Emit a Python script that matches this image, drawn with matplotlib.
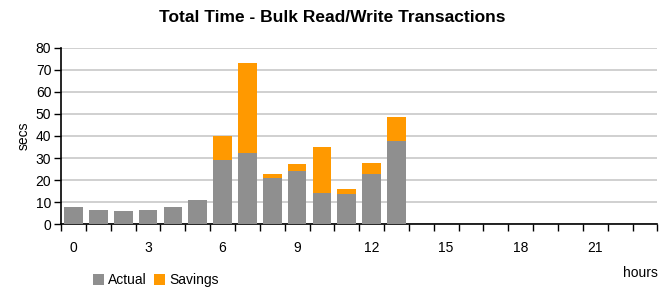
import matplotlib
matplotlib.use("Agg")
import matplotlib.pyplot as plt
import numpy as np

hours = list(range(24))
actual = [8.0, 6.5, 5.9, 6.5, 8.0, 10.9, 29.3, 32.2, 21.1, 24.2, 14.0, 13.7, 22.8, 37.9] + [0]*10
savings = [0, 0, 0, 0, 0, 0, 10.7, 40.8, 1.8, 3.0, 21.2, 2.2, 5.1, 10.9] + [0]*10
xtick_labels = [0, 3, 6, 9, 12, 15, 18, 21]

plt.rcParams['font.family'] = ['Liberation Sans Narrow', 'Liberation Sans', 'DejaVu Sans']

fig = plt.figure(figsize=(6.64, 2.89), dpi=100)
ax = fig.add_axes([0.092, 0.224, 0.898, 0.611])

gray = '#8f8f8f'
orange = '#ff9900'
ax.bar(hours, actual, width=0.75, color=gray, label='Actual', zorder=3)
ax.bar(hours, savings, width=0.75, bottom=actual, color=orange, label='Savings', zorder=3)

ax.set_xlim(-0.5, 23.5)
ax.set_ylim(0, 80)
ax.set_yticks(range(0, 81, 10))
ax.yaxis.grid(True, color='#c8c8c8', linewidth=1.2, zorder=0)
ax.set_axisbelow(True)

ax.set_xticks(xtick_labels)
ax.set_xticklabels([str(v) for v in xtick_labels])
ax.set_xticks(np.arange(-0.5, 24, 1), minor=True)
ax.tick_params(axis='x', which='major', length=0, pad=12, labelsize=10)
ax.tick_params(axis='x', which='minor', length=5, width=1, color='black', direction='out')
ax.tick_params(axis='y', length=5, width=1, direction='out', labelsize=10, pad=2)

for s in ['top', 'right']:
    ax.spines[s].set_visible(False)
ax.spines['left'].set_linewidth(1.2)
ax.spines['bottom'].set_linewidth(1.2)

ax.set_ylabel('secs', fontsize=10, labelpad=4)
fig.text(0.5, 0.94, 'Total Time - Bulk Read/Write Transactions', ha='center', va='center',
         fontsize=12.5, fontweight='bold')
fig.text(0.965, 0.055, 'hours', ha='center', va='center', fontsize=10)

leg = fig.legend(loc='center', bbox_to_anchor=(0.235, 0.03), ncol=2, frameon=False,
                 fontsize=10, handlelength=0.8, handleheight=0.8, handletextpad=0.3,
                 columnspacing=0.5, borderaxespad=0)

fig.savefig('out.png', dpi=100)
